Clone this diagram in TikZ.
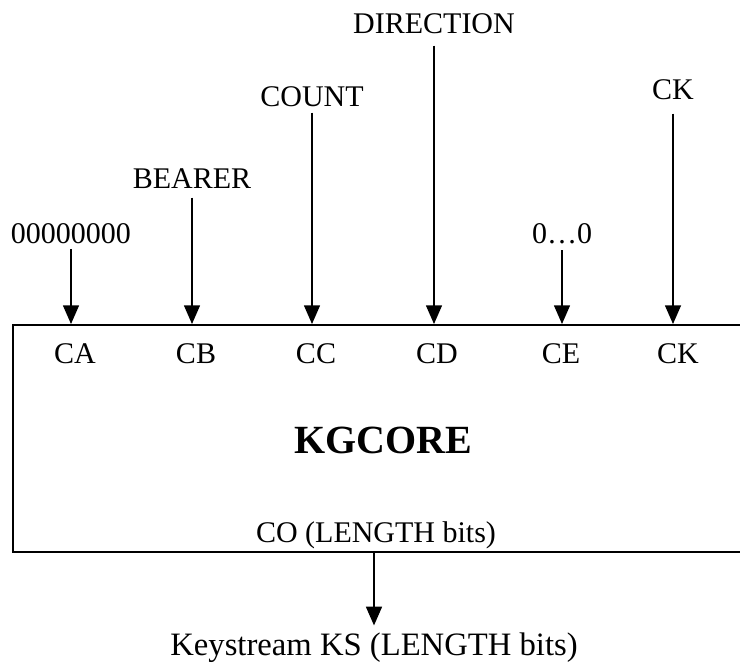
\documentclass[tikz,border=0pt]{standalone}
\usepackage{fontspec}
\setmainfont{Liberation Serif}
\usetikzlibrary{arrows.meta}

\begin{document}
\begin{tikzpicture}[
    x=0.75pt, y=-0.75pt,
    lbl/.style={inner sep=0pt, anchor=base, font=\fontsize{22.5}{27}\selectfont},
    core/.style={rectangle, draw, line width=1.2pt, anchor=north west, minimum width=561pt, minimum height=170.25pt, inner sep=0pt},
    feed/.style={-{Triangle[length=14pt, width=12pt]}, line width=1pt}
]
    \clip (0,0) rectangle (740,668);

    % Eingaenge
    \node[lbl] (zeros) at (71,243) {00000000};
    \node[lbl] (bearer) at (192,188) {BEARER};
    \node[lbl] (count) at (312,106) {COUNT};
    \node[lbl] (direction) at (434,33) {DIRECTION};
    \node[lbl] (zerodots) at (562,243) {0…0};
    \node[lbl] (key) at (673,99) {CK};

    % Kern
    \node[core] (kgcore) at (12,324) {};
    \node[lbl] (ca) at (75,363) {CA};
    \node[lbl] (cb) at (196,363) {CB};
    \node[lbl] (cc) at (316,363) {CC};
    \node[lbl] (cd) at (437,363) {CD};
    \node[lbl] (ce) at (561,363) {CE};
    \node[lbl] (ck) at (678,363) {CK};
    \node[lbl, font=\fontsize{30}{36}\selectfont\bfseries] (title) at (383,453) {KGCORE};
    \node[lbl] (co) at (376,542) {CO (LENGTH bits)};

    % Ausgang
    \node[lbl, font=\fontsize{24.5}{29}\selectfont] (keystream) at (374,655) {Keystream KS (LENGTH bits)};

    % Pfeile
    \draw[feed, shorten <=4pt] (zeros.south) -- (zeros.south |- kgcore.north);
    \draw[feed, shorten <=7pt] (bearer.south) -- (bearer.south |- kgcore.north);
    \draw[feed, shorten <=4.5pt] (count.south) -- (count.south |- kgcore.north);
    \draw[feed, shorten <=9pt] (direction.south) -- (direction.south |- kgcore.north);
    \draw[feed, shorten <=5pt] (zerodots.south) -- (zerodots.south |- kgcore.north);
    \draw[feed, shorten <=10.5pt] (key.south) -- (key.south |- kgcore.north);
    \draw[feed, shorten >=5pt] (kgcore.south -| keystream.north) -- (keystream.north);
\end{tikzpicture}
\end{document}
